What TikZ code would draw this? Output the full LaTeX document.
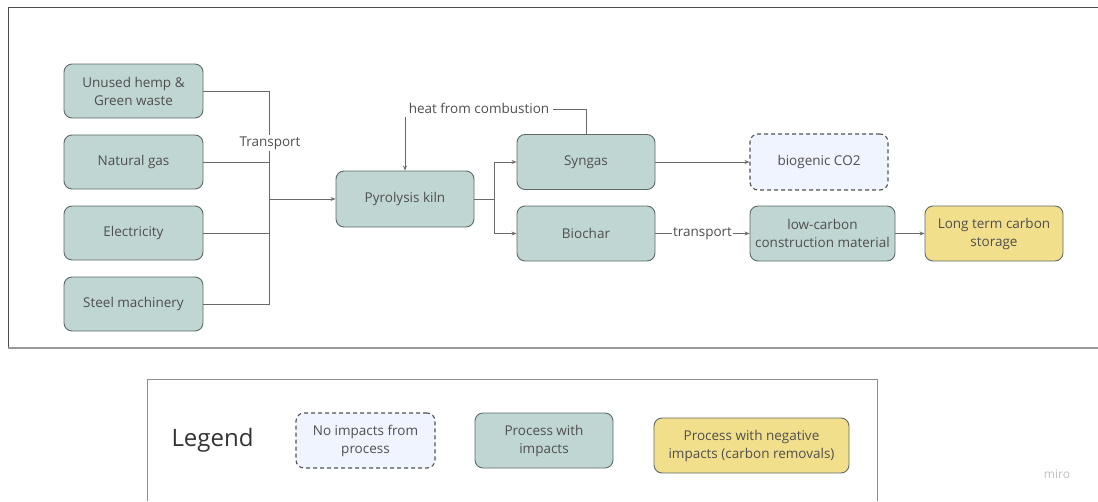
\documentclass[tikz,border=0pt]{standalone}
\usepackage{fontspec}
\setmainfont{Open Sans}
\usetikzlibrary{arrows.meta}
\definecolor{teal}{HTML}{C0D6D3}
\definecolor{yel}{HTML}{F2DF8C}
\definecolor{lav}{HTML}{F0F4FE}
\definecolor{bord}{HTML}{5F6968}
\definecolor{txt}{HTML}{4F4F4F}
\definecolor{ln}{HTML}{6A6A6A}
\tikzset{
  box/.style={draw=bord, line width=0.9pt, rounded corners=8pt, fill=teal, minimum width=138pt, minimum height=55pt, align=center, text=txt, font=\fontsize{13.5}{18}\selectfont, inner sep=2pt},
  ybox/.style={box, fill=yel},
  dbox/.style={box, fill=lav, dashed, dash pattern=on 4pt off 3pt, line width=1.1pt, draw=bord!80!black},
  conn/.style={draw=ln, line width=0.8pt},
  arr/.style={conn, -{Stealth[length=5pt,width=4pt]}},
  lab/.style={fill=white, text=txt, font=\fontsize{13.5}{16}\selectfont, inner sep=1.5pt}
}
\begin{document}
\begin{tikzpicture}[x=1pt,y=-1pt]
\useasboundingbox (0,0) rectangle (1098,501);
% frames
\draw[draw=black!70, line width=1pt] (1098,7) -- (8,7) -- (8,348);
\draw[draw=black!40, line width=1.2pt] (8,348) -- (1098,348);
\draw[draw=black!45, line width=1pt] (147,501) -- (147,379) -- (877,379) -- (877,501);
% left boxes
\node[box, minimum width=139pt, minimum height=54pt] (hemp) at (133.5,91) {Unused hemp \&\\Green waste};
\node[box, minimum width=139pt, minimum height=54pt] (gas) at (133.5,162) {Natural gas};
\node[box, minimum width=139pt, minimum height=54pt] (elec) at (133.5,233) {Electricity};
\node[box, minimum width=139pt, minimum height=54pt] (steel) at (133.5,304) {Steel machinery};
% main chain
\node[box, minimum height=56pt] (kiln) at (405,199) {Pyrolysis kiln};
\node[box] (syngas) at (586,162) {Syngas};
\node[box] (biochar) at (586,233.5) {Biochar};
\node[dbox, minimum height=56pt] (co2) at (819,162) {biogenic CO2};
\node[box, minimum width=145pt, inner sep=1pt] (lowc) at (822.5,233.5) {low-carbon\\construction material};
\node[ybox] (lts) at (994,233.5) {Long term carbon\\storage};
% connectors from inputs
\coordinate (j) at (269,199);
\draw[conn] (hemp.east) -| (j);
\draw[conn] (gas.east) -| (j);
\draw[conn] (elec.east) -| (j);
\draw[conn] (steel.east) -| (j);
\draw[arr] (j) -- (kiln.west);
\node[lab] (tr) at (270,143) {Transport};
% split
\coordinate (s) at (494,199);
\draw[conn] (kiln.east) -- (s);
\draw[arr] (s) |- (syngas.west);
\draw[arr] (s) |- (biochar.west);
% heat
\coordinate (h) at (405,109);
\draw[arr] (syngas.north) |- (h) -- (kiln.north);
\node[lab, inner xsep=3.5pt, minimum height=18pt] (heat) at (479,108) {heat from combustion};
% outputs
\draw[arr] (syngas.east) -- (co2.west);
\draw[arr] (biochar.east) -- node[lab] (tp) {transport} (lowc.west);
\draw[arr] (lowc.east) -- (lts.west);
% legend
\node[text=black!80, font=\fontsize{24}{28}\selectfont, anchor=center] (leg) at (212.5,440) {Legend};
\node[dbox, minimum width=139pt] (l1) at (365.5,440.5) {No impacts from\\process};
\node[box] (l2) at (544,440.5) {Process with\\impacts};
\node[ybox, minimum width=195pt] (l3) at (751.5,445.5) {Process with negative\\impacts (carbon removals)};
\node[text=black!25, font=\fontsize{12}{14}\selectfont] (miro) at (1057,474) {miro};
\end{tikzpicture}
\end{document}
